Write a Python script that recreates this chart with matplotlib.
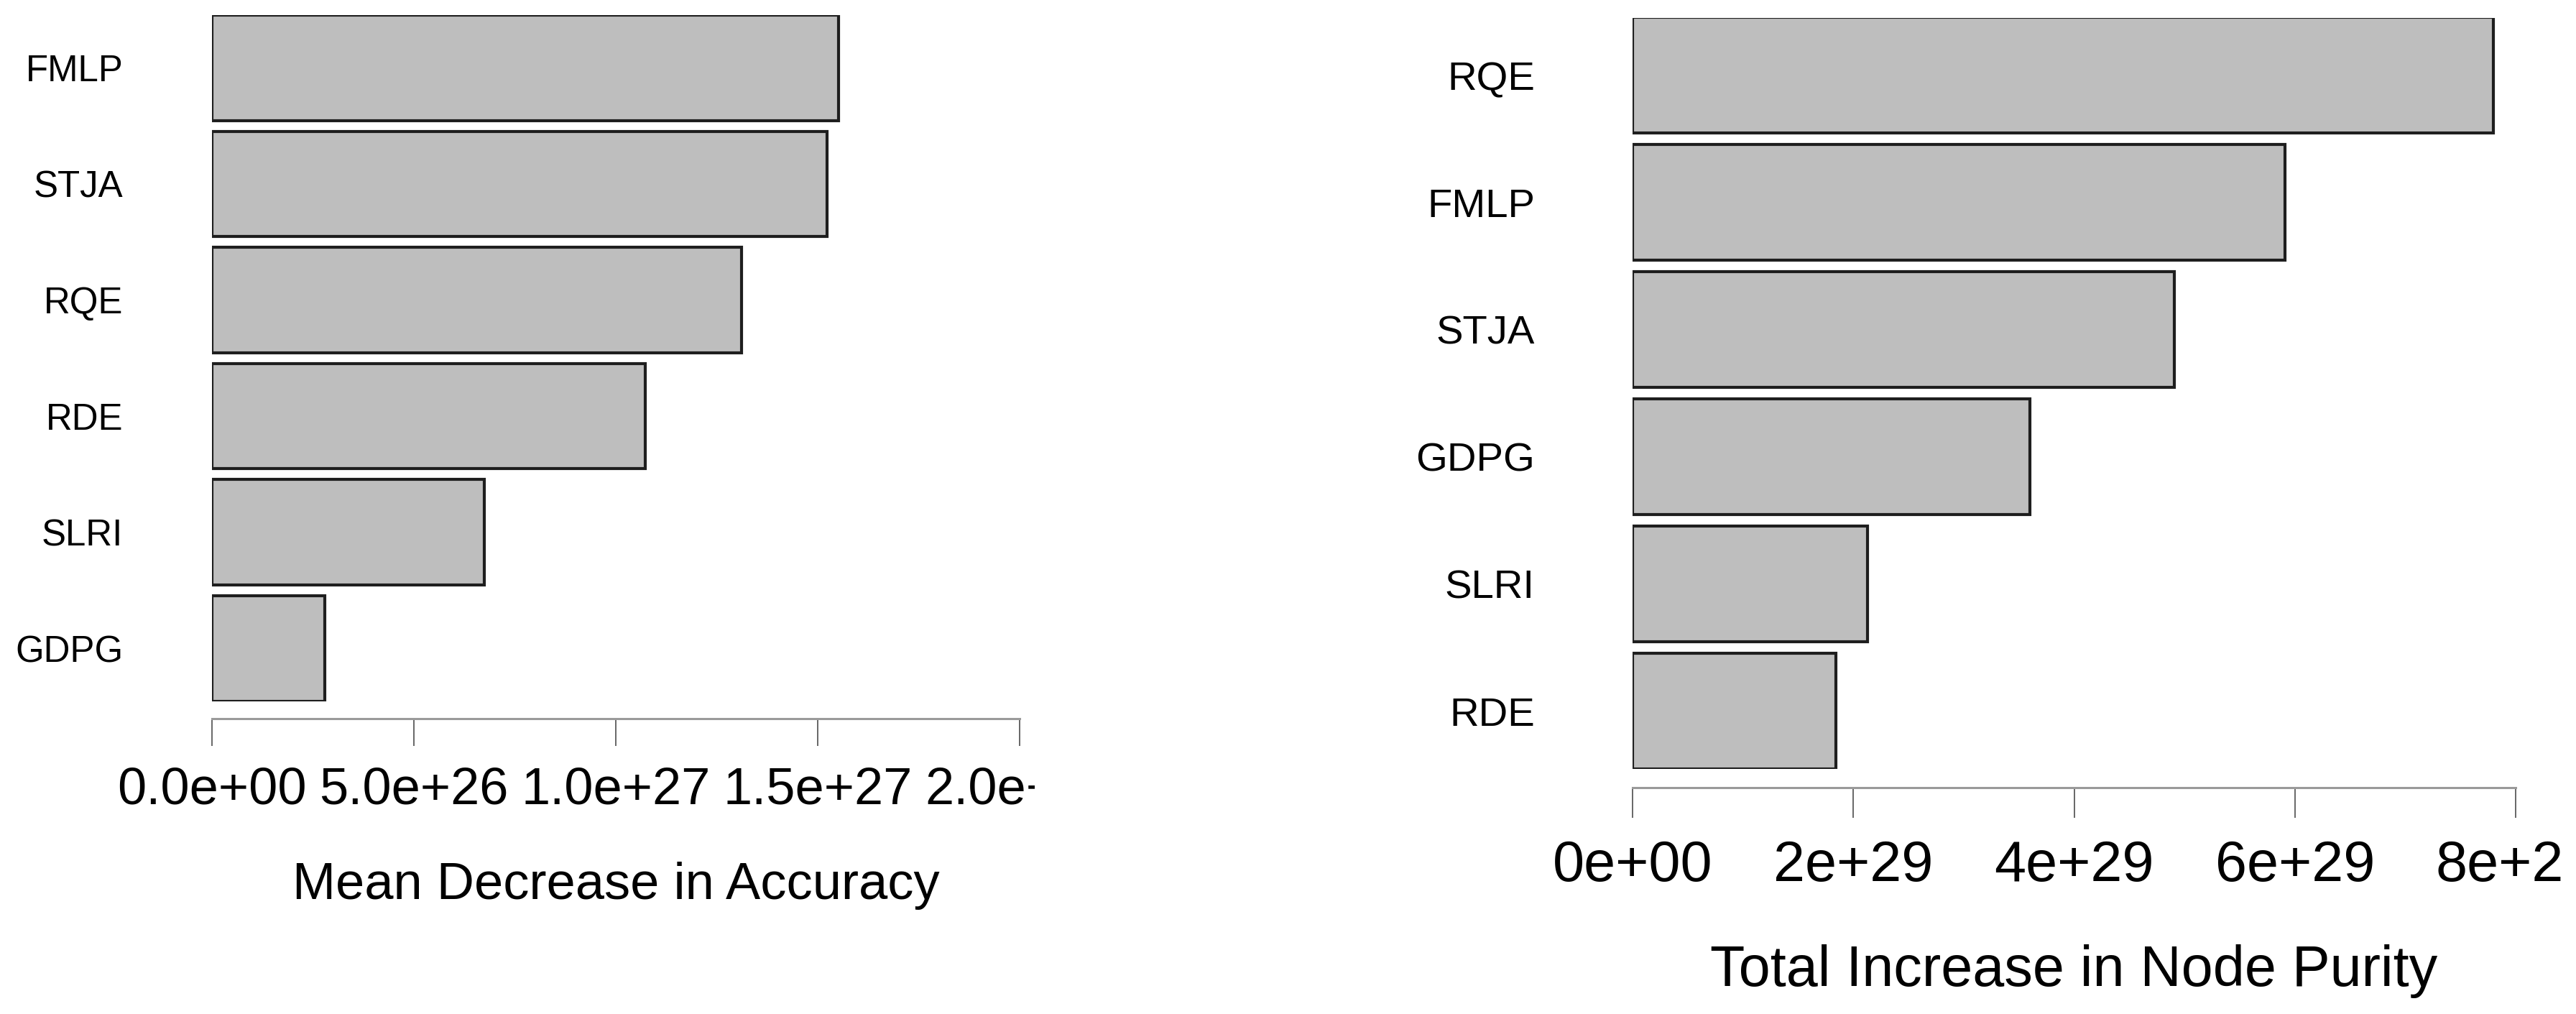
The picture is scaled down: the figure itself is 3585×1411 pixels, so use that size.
import matplotlib
matplotlib.use("Agg")
import matplotlib.pyplot as plt
from matplotlib.transforms import Bbox, TransformedBbox
import numpy as np

plt.rcParams['font.family'] = ['Liberation Sans', 'DejaVu Sans']

# Data
left_categories = ["FMLP", "STJA", "RQE", "RDE", "SLRI", "GDPG"]
left_values = [1.551e27, 1.523e27, 1.311e27, 1.073e27, 0.674e27, 0.279e27]
left_ticks = [0.0, 5.0e26, 1.0e27, 1.5e27, 2.0e27]
left_ticklabels = ["0.0e+00", "5.0e+26", "1.0e+27", "1.5e+27", "2.0e+27"]
left_xlabel = "Mean Decrease in Accuracy"

right_categories = ["RQE", "FMLP", "STJA", "GDPG", "SLRI", "RDE"]
right_values = [7.80e29, 5.91e29, 4.91e29, 3.60e29, 2.13e29, 1.84e29]
right_ticks = [0, 2e29, 4e29, 6e29, 8e29]
right_ticklabels = ["0e+00", "2e+29", "4e+29", "6e+29", "8e+29"]
right_xlabel = "Total Increase in Node Purity"

W, H = 3585, 1411
fig = plt.figure(figsize=(W / 100, H / 100), dpi=100)

def px_axes(x0, x1, ytop, ybot):
    return fig.add_axes([x0 / W, 1 - ybot / H, (x1 - x0) / W, (ybot - ytop) / H])

def style(ax, cats, vals, ticks, labels, xlabel, xmax, bh, ylab_fs, ylab_pad,
          tick_fs, tick_pad, tick_len, outward, lpad):
    n = len(cats)
    ypos = np.arange(n)[::-1]
    ax.barh(ypos, vals, height=bh, color="#BEBEBE", edgecolor="#1e1e1e",
            linewidth=3.0, align="center")
    ax.set_ylim(-bh / 2, n - 1 + bh / 2)
    ax.set_xlim(0, xmax)
    ax.set_yticks(ypos)
    ax.set_yticklabels(cats)
    ax.tick_params(axis="y", length=0, pad=ylab_pad, labelsize=ylab_fs)
    ax.set_xticks(ticks)
    ax.set_xticklabels(labels)
    ax.tick_params(axis="x", length=tick_len, width=1.4, color="#666666",
                   pad=tick_pad, direction="out", labelsize=tick_fs)
    for s in ["top", "right", "left"]:
        ax.spines[s].set_visible(False)
    ax.spines["bottom"].set_position(("outward", outward))
    ax.spines["bottom"].set_bounds(ticks[0], ticks[-1])
    ax.spines["bottom"].set_color("#9a9a9a")
    ax.spines["bottom"].set_linewidth(2.2)
    ax.set_xlabel(xlabel, fontsize=tick_fs, labelpad=lpad)
    ax.patch.set_alpha(0)

ax1 = px_axes(295, 1419, 21, 975.5)
style(ax1, left_categories, left_values, left_ticks, left_ticklabels, left_xlabel,
      2.0e27, 0.91, 36.7, 89, 52, 21, 27, 17.6, 47)

ax2 = px_axes(2272, 3501, 24.5, 1070)
style(ax2, right_categories, right_values, right_ticks, right_ticklabels, right_xlabel,
      8e29, 0.91, 40.5, 98, 57, 22, 30, 18.7, 51)

# clip tick labels at each panel's region edge
clip1 = TransformedBbox(Bbox([[0, 0], [1440 / W, 1]]), fig.transFigure)
for lab in ax1.get_xticklabels():
    lab.set_clip_box(clip1)
    lab.set_clip_on(True)
clip2 = TransformedBbox(Bbox([[0, 0], [3566 / W, 1]]), fig.transFigure)
for lab in ax2.get_xticklabels():
    lab.set_clip_box(clip2)
    lab.set_clip_on(True)

fig.savefig("out.png", dpi=100, facecolor="white")
